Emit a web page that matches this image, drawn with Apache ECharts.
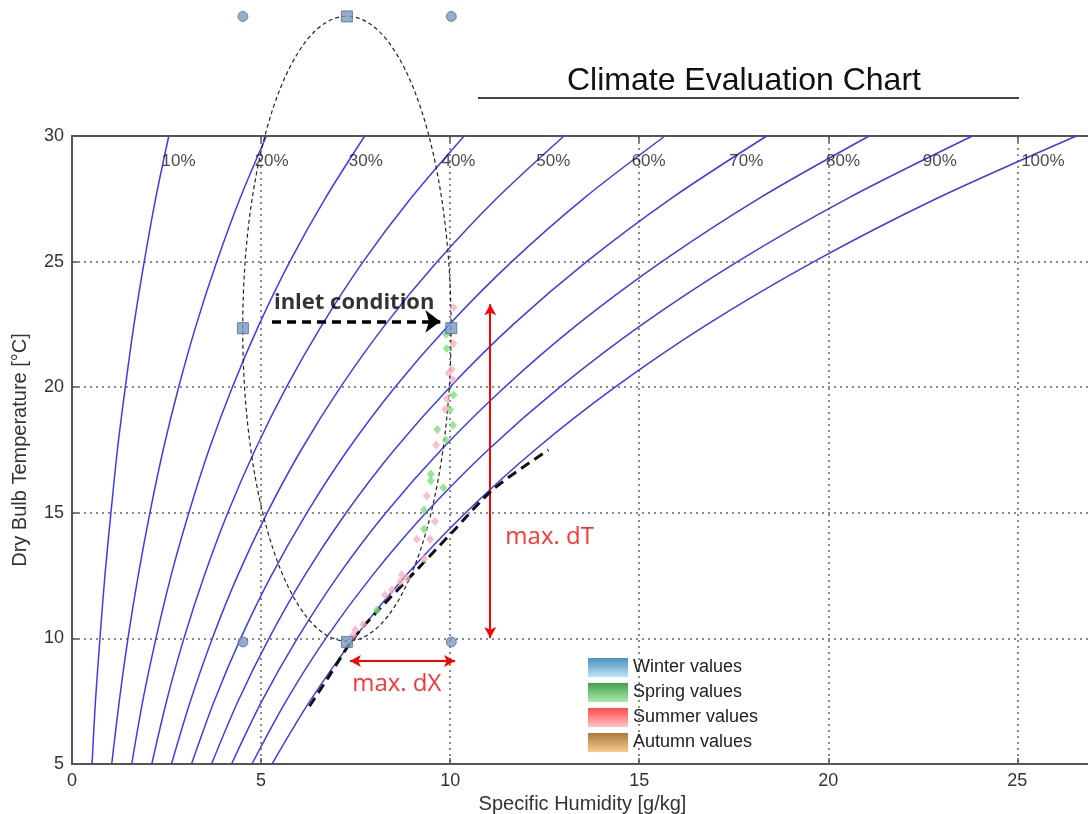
<!DOCTYPE html>
<html>
<head>
<meta charset="utf-8">
<script src="https://cdn.jsdelivr.net/npm/echarts@6/dist/echarts.min.js"></script>
<style>
  html, body { margin: 0; padding: 0; background: #ffffff; }
  #chart { width: 1088px; height: 814px; }
</style>
</head>
<body>
<div id="chart"></div>
<script>
// Dry bulb temperatures (°C) at which each relative-humidity curve is sampled
const temps = [5, 7.5, 10, 12.5, 15, 17.5, 20, 22.5, 25, 27.5, 30];

// Specific humidity (g/kg) of each relative-humidity curve at the temperatures above
const rh10  = [0.53, 0.62, 0.74, 0.87, 1.03, 1.20, 1.41, 1.64, 1.91, 2.21, 2.56];
const rh20  = [1.05, 1.25, 1.48, 1.75, 2.06, 2.41, 2.82, 3.29, 3.83, 4.44, 5.14];
const rh30  = [1.58, 1.87, 2.22, 2.62, 3.09, 3.62, 4.24, 4.95, 5.76, 6.69, 7.74];
const rh40  = [2.11, 2.50, 2.96, 3.50, 4.12, 4.84, 5.67, 6.62, 7.70, 8.95, 10.37];
const rh50  = [2.63, 3.13, 3.71, 4.38, 5.16, 6.06, 7.10, 8.29, 9.66, 11.22, 13.01];
const rh60  = [3.16, 3.76, 4.46, 5.27, 6.21, 7.29, 8.54, 9.98, 11.63, 13.52, 15.68];
const rh70  = [3.69, 4.39, 5.21, 6.15, 7.25, 8.52, 9.99, 11.67, 13.61, 15.83, 18.37];
const rh80  = [4.22, 5.02, 5.96, 7.04, 8.30, 9.76, 11.44, 13.37, 15.60, 18.15, 21.08];
const rh90  = [4.76, 5.66, 6.71, 7.94, 9.36, 11.00, 12.90, 15.08, 17.60, 20.49, 23.81];
const rh100 = [5.29, 6.29, 7.46, 8.83, 10.41, 12.24, 14.36, 16.80, 19.62, 22.85, 26.56];

const rhCurves = [rh10, rh20, rh30, rh40, rh50, rh60, rh70, rh80, rh90, rh100];
const rhNames = ['10%', '20%', '30%', '40%', '50%', '60%', '70%', '80%', '90%', '100%'];
// Where each curve label sits (specific humidity at the label temperature)
const rhLabelX = [2.37, 4.83, 7.32, 9.77, 12.28, 14.80, 17.38, 19.94, 22.50, 25.10];
const rhLabelT = 29;

// Measured climate points [specific humidity, temperature]
const winterValues = [];
const springValues = [
  [9.89, 22.11], [9.91, 21.54], [10.09, 19.69], [10.00, 19.10], [10.07, 18.49],
  [9.66, 18.32], [9.89, 17.90], [9.49, 16.54], [9.49, 16.28], [9.82, 16.00],
  [9.31, 15.11], [9.31, 14.36], [8.06, 11.13]
];
const summerValues = [
  [10.09, 23.17], [10.09, 21.74], [10.04, 20.71], [9.96, 20.57], [10.07, 20.31],
  [9.91, 19.55], [9.87, 19.12], [9.63, 17.70], [9.38, 15.67], [9.60, 14.65],
  [9.12, 13.95], [9.47, 13.95], [9.31, 13.16], [8.72, 12.53], [8.85, 12.39],
  [8.68, 12.26], [8.46, 11.93], [8.28, 11.73], [7.70, 10.55], [7.49, 10.34],
  [7.44, 10.14]
];
const autumnValues = [];

const seasonNames = ['Winter values', 'Spring values', 'Summer values', 'Autumn values'];
const seasonTop = ['#1c74ad', '#138a1f', '#ff1f1f', '#985810'];
const seasonBottom = ['#ace0f6', '#96e596', '#ffb4bd', '#f2bd6c'];

// Cooling limit trend near saturation
const saturationTrend = [
  [6.28, 7.30], [6.80, 8.50], [7.42, 9.95], [8.15, 11.20], [9.05, 12.62],
  [10.05, 14.22], [11.15, 15.95], [12.60, 17.50]
];

// Inlet condition envelope: centre and radii in axis units
const envelopeCenter = [7.27, 22.33];
const envelopeRadius = [2.755, 12.44];
const envelopeCorners = [[4.52, 34.76], [10.03, 34.76], [4.52, 9.86], [10.03, 9.86]];
const envelopeMids = [[7.27, 34.76], [4.52, 22.35], [10.03, 22.35], [7.27, 9.86]];

// Arrows
const inletArrow = [[5.29, 22.62], [9.74, 22.62]];
const dTArrow = [[11.06, 23.30], [11.06, 10.02]];
const dXArrow = [[7.35, 9.10], [10.13, 9.10]];

// Annotation texts and their anchors
const inletText = ['inlet condition', 5.34, 23.38];
const dTText = ['max. dT', 11.46, 14.03];
const dXText = ['max. dX', 7.41, 8.19];

const xMax = 27;
const FONT = '"Liberation Sans", Arial, sans-serif';
const NOTE_FONT = '"Open Sans", "Noto Sans", sans-serif';

const chart = echarts.init(document.getElementById('chart'), null, { renderer: 'canvas' });

function grad(top, bottom) {
  return { type: 'linear', x: 0, y: 0, x2: 0, y2: 1,
    colorStops: [{ offset: 0, color: top }, { offset: 1, color: bottom }] };
}

const series = [];

rhCurves.forEach((curve, i) => {
  series.push({
    type: 'line', name: rhNames[i], silent: true, smooth: 0.3,
    showSymbol: false, symbol: 'none', z: 2,
    lineStyle: { color: '#3b3bf6', width: 1.5 },
    data: temps.map((t, k) => [curve[k], t])
  });
});

series.push({
  type: 'scatter', name: 'rh labels', silent: true, symbolSize: 0, z: 3,
  label: {
    show: true, position: 'right', distance: 0,
    fontFamily: FONT, fontSize: 17, color: '#1a1a1a',
    formatter: p => rhNames[p.dataIndex]
  },
  data: rhLabelX.map(x => [x, rhLabelT])
});

series.push({
  type: 'custom', name: 'envelope', silent: true, clip: false, z: 4,
  renderItem: function (params, api) {
    const c = api.coord([api.value(0), api.value(1)]);
    const s = api.size([api.value(2), api.value(3)]);
    return {
      type: 'ellipse',
      shape: { cx: c[0], cy: c[1], rx: s[0], ry: s[1] },
      style: { fill: 'none', stroke: '#222', lineWidth: 1.2, lineDash: [4, 3] }
    };
  },
  data: [[envelopeCenter[0], envelopeCenter[1], envelopeRadius[0], envelopeRadius[1]]]
});

series.push({
  type: 'line', name: 'saturation trend', silent: true, smooth: 0.3,
  showSymbol: false, symbol: 'none', z: 5,
  lineStyle: { color: '#111', width: 3, type: [10, 6] },
  data: saturationTrend
});

const seasonData = [winterValues, springValues, summerValues, autumnValues];
const seasonPoint = ['#8fc8ea', '#80e076', '#f8b2bf', '#e8b060'];
seasonNames.forEach((name, i) => {
  series.push({
    type: 'scatter', name: name, silent: true, symbol: 'diamond',
    symbolSize: [8, 9], z: 6,
    itemStyle: { color: seasonPoint[i] },
    data: seasonData[i]
  });
});

series.push({
  type: 'scatter', name: 'corner handles', silent: true, clip: false,
  symbol: 'circle', symbolSize: 10, z: 7,
  itemStyle: { color: '#7b98bd', borderColor: '#55739b', borderWidth: 1 },
  data: envelopeCorners
});
series.push({
  type: 'scatter', name: 'edge handles', silent: true, clip: false,
  symbol: 'rect', symbolSize: 11, z: 7,
  itemStyle: { color: '#7b98bd', borderColor: '#4f6d95', borderWidth: 1 },
  data: envelopeMids
});

series.push({
  type: 'line', name: 'arrows', silent: true, data: [], z: 8,
  markLine: {
    silent: true, animation: false,
    label: { show: false },
    emphasis: { disabled: true },
    data: [
      [
        { coord: inletArrow[0], symbol: 'none',
          lineStyle: { color: '#000', width: 3.5, type: [9, 6] } },
        { coord: inletArrow[1], symbol: 'arrow', symbolSize: [17, 15] }
      ],
      [
        { coord: dTArrow[0], symbol: 'arrow', symbolSize: [9, 11],
          lineStyle: { color: '#ff0000', width: 2, type: 'solid' } },
        { coord: dTArrow[1], symbol: 'arrow', symbolSize: [9, 11] }
      ],
      [
        { coord: dXArrow[0], symbol: 'arrow', symbolSize: [9, 11],
          lineStyle: { color: '#ff0000', width: 2, type: 'solid' } },
        { coord: dXArrow[1], symbol: 'arrow', symbolSize: [9, 11] }
      ]
    ]
  }
});

series.push({
  type: 'scatter', name: 'notes', silent: true, symbolSize: 0, z: 9,
  data: [
    { value: [inletText[1], inletText[2]],
      label: { show: true, position: 'right', distance: 0, formatter: inletText[0],
        fontFamily: NOTE_FONT, fontWeight: 'bold', fontSize: 22, color: '#000' } },
    { value: [dTText[1], dTText[2]],
      label: { show: true, position: 'right', distance: 0, formatter: dTText[0],
        fontFamily: NOTE_FONT, fontSize: 24, color: '#ff0000' } },
    { value: [dXText[1], dXText[2]],
      label: { show: true, position: 'right', distance: 0, formatter: dXText[0],
        fontFamily: NOTE_FONT, fontSize: 24, color: '#ff0000' } }
  ]
});

const axisLineStyle = { color: '#555', width: 2 };

chart.setOption({
  animation: false,
  backgroundColor: '#ffffff',
  title: {
    text: 'Climate Evaluation Chart',
    left: 567, top: 65, padding: 0,
    textStyle: { fontFamily: FONT, fontSize: 32, fontWeight: 'normal', color: '#111' }
  },
  graphic: [{
    type: 'line', silent: true,
    shape: { x1: 478, y1: 98, x2: 1019, y2: 98 },
    style: { stroke: '#444', lineWidth: 2 }
  }],
  legend: {
    orient: 'vertical', left: 583, top: 653,
    itemWidth: 40, itemHeight: 19, itemGap: 6,
    icon: 'rect', selectedMode: false,
    textStyle: { fontFamily: FONT, fontSize: 18, color: '#222' },
    data: seasonNames.map((n, i) => ({
      name: n, icon: 'rect',
      itemStyle: { color: grad(seasonTop[i], seasonBottom[i]), borderWidth: 0 }
    }))
  },
  grid: { left: 72, right: -5, top: 136, bottom: 50, containLabel: false, outerBoundsMode: 'none' },
  xAxis: [{
    type: 'value', min: 0, max: xMax, interval: 5, position: 'bottom',
    name: 'Specific Humidity [g/kg]', nameLocation: 'middle', nameGap: 24,
    nameTextStyle: { fontFamily: FONT, fontSize: 20, color: '#333' },
    axisLine: { show: true, onZero: false, lineStyle: axisLineStyle },
    axisTick: { show: true, inside: true, length: 6, lineStyle: { color: '#555', width: 1.5 } },
    axisLabel: { fontFamily: FONT, fontSize: 18, color: '#333', margin: 8,
      showMaxLabel: false, formatter: v => (v % 5 === 0 ? String(v) : '') },
    splitLine: { show: true, lineStyle: { type: [2, 4], color: '#666', width: 1.5 } }
  }, {
    type: 'value', min: 0, max: xMax, interval: 5, position: 'top',
    axisLine: { show: true, onZero: false, lineStyle: axisLineStyle },
    axisTick: { show: true, inside: true, length: 6, lineStyle: { color: '#555', width: 1.5 } },
    axisLabel: { show: false },
    splitLine: { show: false }
  }],
  yAxis: {
    type: 'value', min: 5, max: 30, interval: 5,
    name: 'Dry Bulb Temperature [°C]', nameLocation: 'middle', nameGap: 42,
    nameTextStyle: { fontFamily: FONT, fontSize: 20, color: '#333' },
    axisLine: { show: true, onZero: false, lineStyle: axisLineStyle },
    axisTick: { show: true, inside: true, length: 6, lineStyle: { color: '#555', width: 1.5 } },
    axisLabel: { fontFamily: FONT, fontSize: 18, color: '#333', margin: 8 },
    splitLine: { show: true, lineStyle: { type: [2, 4], color: '#666', width: 1.5 } }
  },
  series: series
});
</script>
</body>
</html>
